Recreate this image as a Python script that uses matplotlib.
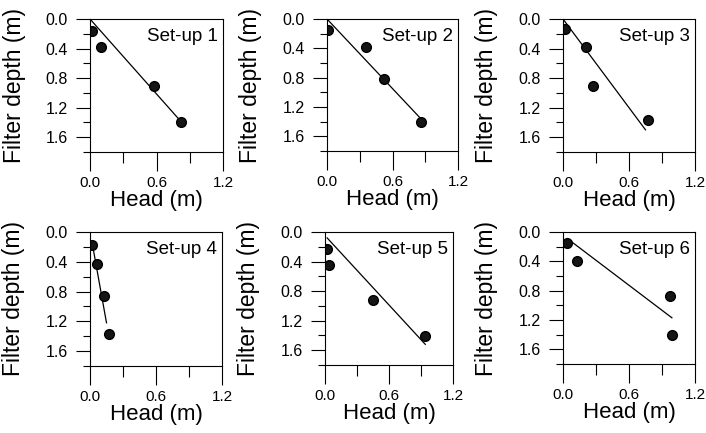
import matplotlib
matplotlib.use("Agg")
import matplotlib.pyplot as plt
from matplotlib.ticker import MultipleLocator, FixedLocator
from matplotlib import font_manager

plt.rcParams['font.family'] = ['Liberation Sans', 'DejaVu Sans']

names = {f.name for f in font_manager.fontManager.ttflist}
narrow = ['Liberation Sans Narrow', 'Liberation Sans'] if 'Liberation Sans Narrow' in names else ['Liberation Sans']

titles = ["Set-up 1", "Set-up 2", "Set-up 3", "Set-up 4", "Set-up 5", "Set-up 6"]

head = [
    [0.02, 0.10, 0.58, 0.82],
    [0.01, 0.36, 0.52, 0.86],
    [0.02, 0.21, 0.27, 0.77],
    [0.02, 0.06, 0.13, 0.17],
    [0.02, 0.04, 0.45, 0.94],
    [0.04, 0.125, 0.97, 0.99],
]
depth = [
    [0.16, 0.385, 0.90, 1.40],
    [0.15, 0.385, 0.82, 1.40],
    [0.14, 0.385, 0.90, 1.37],
    [0.18, 0.43, 0.86, 1.37],
    [0.23, 0.45, 0.92, 1.41],
    [0.15, 0.40, 0.87, 1.40],
]
fit_head = [
    [0.0, 0.84],
    [0.0, 0.86],
    [0.0, 0.75],
    [0.02, 0.15],
    [0.02, 0.94],
    [0.04, 0.99],
]
fit_depth = [
    [0.0, 1.42],
    [0.0, 1.36],
    [0.0, 1.50],
    [0.15, 1.22],
    [0.08, 1.52],
    [0.09, 1.17],
]

x_ticks = [0.0, 0.6, 1.2]
y_ticks = [0.0, 0.4, 0.8, 1.2, 1.6]

W, H = 706, 433
# pixel boxes: left, right, top, bottom
boxes = [
    (90, 223, 19, 152),
    (327, 458, 19, 151),
    (563, 695, 19, 152),
    (90, 222, 232, 366),
    (325, 453, 232, 365),
    (563, 695, 232, 364),
]

fig = plt.figure(figsize=(W / 100, H / 100), dpi=100)

for i, (l, r, t, b) in enumerate(boxes):
    w, h = r - l, b - t
    ax = fig.add_axes([l / W, 1 - b / H, w / W, h / H])
    ax.plot(fit_head[i], fit_depth[i], color='black', lw=0.9)
    ax.plot(head[i], depth[i], 'o', color='#151515', mec='black', ms=7, mew=1.0)
    ax.set_xlim(0, 1.2)
    ax.set_ylim(1.8, 0)
    ax.xaxis.set_major_locator(FixedLocator(x_ticks))
    ax.xaxis.set_minor_locator(MultipleLocator(0.3))
    ax.yaxis.set_major_locator(FixedLocator(y_ticks))
    ax.yaxis.set_minor_locator(MultipleLocator(0.2))
    ax.set_xticklabels([f"{v:.1f}" for v in x_ticks])
    ax.set_yticklabels([f"{v:.1f}" for v in y_ticks])
    ax.tick_params(axis='x', which='major', direction='out', length=14, width=0.8, pad=3, labelsize=11)
    ax.tick_params(axis='x', which='minor', direction='out', length=8, width=0.8)
    ax.tick_params(axis='y', which='major', direction='out', length=10, width=0.8, pad=6, labelsize=11.5)
    ax.tick_params(axis='y', which='minor', direction='out', length=5, width=0.8)
    for sp in ax.spines.values():
        sp.set_linewidth(0.8)
    ax.set_xlabel("Head (m)", fontsize=16)
    ax.set_ylabel("Filter depth (m)", fontsize=16.5)
    ax.xaxis.set_label_coords(0.5, -38 / h)
    ax.yaxis.set_label_coords(-76 / w, 0.5)
    ax.yaxis.label.set_verticalalignment('center')
    ax.text(0.96, 0.87, titles[i], transform=ax.transAxes, ha='right', va='center',
            fontsize=13.5, family=narrow)

fig.savefig("out.png", dpi=100)
